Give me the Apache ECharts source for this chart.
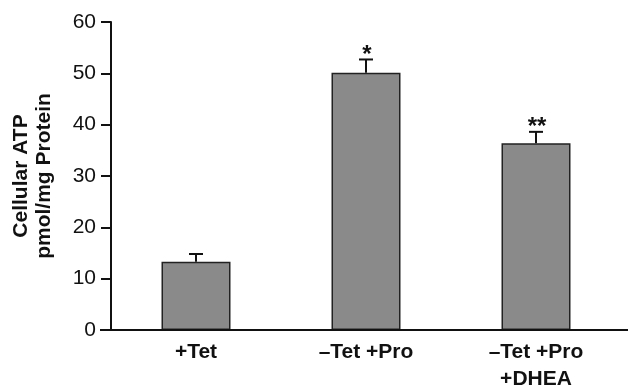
<!DOCTYPE html>
<html><head><meta charset="utf-8">
<script src="https://cdn.jsdelivr.net/npm/echarts@6/dist/echarts.min.js"></script>
<style>html,body{margin:0;padding:0;background:#fff}#c{width:628px;height:386px}</style>
</head><body><div id="c"></div>
<script>
var categories = ['+Tet', '\u2013Tet +Pro', '\u2013Tet +Pro\n+DHEA'];
var means = [13.3, 50.1, 36.4];
var errors = [1.5, 2.6, 2.2];
var significance = ['', '*', '**'];
var yTicks = [0, 10, 20, 30, 40, 50, 60];

var FONT = '"Liberation Sans", Arial, Helvetica, sans-serif';
var chart = echarts.init(document.getElementById('c'), null, {renderer: 'canvas'});
var errData = categories.map(function (c, i) { return [i, means[i], errors[i], significance[i]]; });

chart.setOption({
  animation: false,
  backgroundColor: '#fff',
  grid: {left: 111, right: 7, top: 22, bottom: 56, containLabel: false, outerBoundsMode: 'none'},
  xAxis: {
    type: 'category', data: categories,
    axisLine: {show: false}, axisTick: {show: false},
    axisLabel: {fontFamily: FONT, fontSize: 21, fontWeight: 'bold', color: '#111', margin: 9, lineHeight: 27}
  },
  yAxis: {
    type: 'value', min: yTicks[0], max: yTicks[yTicks.length - 1], interval: 10,
    splitLine: {show: false},
    axisLine: {show: true, lineStyle: {color: '#111', width: 2}},
    axisTick: {show: true, inside: false, length: 10, lineStyle: {color: '#111', width: 2}},
    axisLabel: {fontFamily: FONT, fontSize: 21, color: '#111', margin: 15},
    name: 'Cellular ATP\npmol/mg Protein', nameLocation: 'middle', nameGap: 55,
    nameTextStyle: {fontFamily: FONT, fontSize: 21, fontWeight: 'bold', color: '#111', lineHeight: 23}
  },
  series: [{
    type: 'bar', data: means, barWidth: 69,
    itemStyle: {color: '#8a8a8a', borderColor: '#222', borderWidth: 1.5}
  }, {
    type: 'custom', data: errData, z: 5,
    renderItem: function (params, api) {
      var x = api.value(0), m = api.value(1), e = api.value(2);
      var base = api.coord([x, m]);
      var top = api.coord([x, m + e]);
      var cap = 7;
      var children = [
        {type: 'line', shape: {x1: base[0], y1: base[1], x2: top[0], y2: top[1]}, style: {stroke: '#111', lineWidth: 2}},
        {type: 'line', shape: {x1: top[0] - cap, y1: top[1], x2: top[0] + cap, y2: top[1]}, style: {stroke: '#111', lineWidth: 2}}
      ];
      var s = significance[params.dataIndex];
      if (s) {
        children.push({type: 'text', style: {text: s, x: top[0] + 1, y: top[1] + 8, align: 'center', verticalAlign: 'bottom',
          font: 'bold 24px ' + FONT, fill: '#111'}});
      }
      return {type: 'group', children: children};
    }
  }]
});

var y0 = chart.convertToPixel({yAxisIndex: 0}, 0);
chart.setOption({
  graphic: [{type: 'line', shape: {x1: 100, y1: y0, x2: 628, y2: y0}, style: {stroke: '#111', lineWidth: 2}, z: 10}]
});
</script></body></html>
